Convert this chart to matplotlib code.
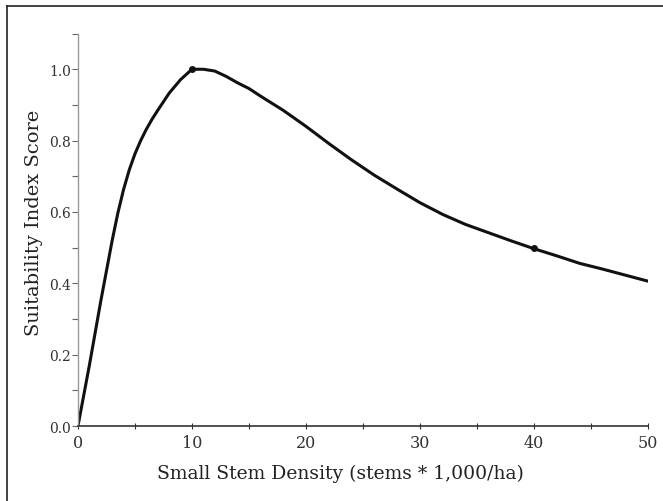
import matplotlib
matplotlib.use("Agg")
import matplotlib.pyplot as plt
from matplotlib.lines import Line2D
from matplotlib.ticker import MultipleLocator, FormatStrFormatter

# values
stem_density = [0, 1, 2, 3, 3.5, 4, 4.5, 5, 5.5, 6, 6.5, 7, 8, 9, 10, 11, 12, 13, 14,
                15, 16, 18, 20, 22, 24, 26, 28, 30, 32, 34, 36, 38, 40, 42, 44, 46,
                48, 50]
suitability = [0.0, 0.17, 0.35, 0.52, 0.597, 0.663, 0.718, 0.763, 0.8, 0.832, 0.86,
               0.885, 0.933, 0.971, 1.0, 1.0, 0.995, 0.98, 0.962, 0.946, 0.925,
               0.885, 0.84, 0.792, 0.746, 0.703, 0.664, 0.626, 0.593, 0.565, 0.542,
               0.519, 0.497, 0.477, 0.456, 0.44, 0.423, 0.406]
# marked points on the curve
pts_x = [10, 40]
pts_y = [1.0, 0.5]

plt.rcParams['font.family'] = ['DejaVu Serif']

fig = plt.figure(figsize=(6.63, 5.02), dpi=100)
ax = fig.add_axes([0.1176, 0.1494, 0.8597, 0.7817])

ax.plot(stem_density, suitability, color="#111111", lw=2.2, solid_joinstyle="round",
        solid_capstyle="round")
ax.plot(pts_x, pts_y, "o", color="#111111", ms=4)

ax.set_xlim(0, 50)
ax.set_ylim(0, 1.1)
ax.xaxis.set_major_locator(MultipleLocator(10))
ax.xaxis.set_minor_locator(MultipleLocator(5))
ax.yaxis.set_major_locator(MultipleLocator(0.2))
ax.yaxis.set_minor_locator(MultipleLocator(0.1))
ax.yaxis.set_major_formatter(FormatStrFormatter("%.1f"))

for s in ["top", "right"]:
    ax.spines[s].set_visible(False)
ax.spines["left"].set_color("#999999")
ax.spines["bottom"].set_color("#333333")
ax.spines["left"].set_linewidth(1.0)
ax.spines["bottom"].set_linewidth(1.2)

ax.tick_params(axis="x", which="both", direction="inout", length=5, width=0.8,
               colors="#333333", labelsize=11.5, pad=3)
ax.tick_params(axis="y", which="both", direction="out", length=4, width=0.8,
               colors="#666666", labelsize=10, pad=1, labelcolor="#333333")

ax.set_xlabel("Small Stem Density (stems * 1,000/ha)", fontsize=13.5, color="#222222")
ax.xaxis.set_label_coords(0.46, -0.097)
ax.set_ylabel("Suitability Index Score", fontsize=14, color="#222222")
ax.yaxis.set_label_coords(-0.062, 0.52)

# frame lines at the top and left of the figure
fig.add_artist(Line2D([7 / 663, 1], [1 - 7 / 502, 1 - 7 / 502], color="#222222",
                      lw=1.2, transform=fig.transFigure))
fig.add_artist(Line2D([7 / 663, 7 / 663], [0, 1 - 7 / 502], color="#222222",
                      lw=1.2, transform=fig.transFigure))

fig.savefig("out.png", dpi=100)
